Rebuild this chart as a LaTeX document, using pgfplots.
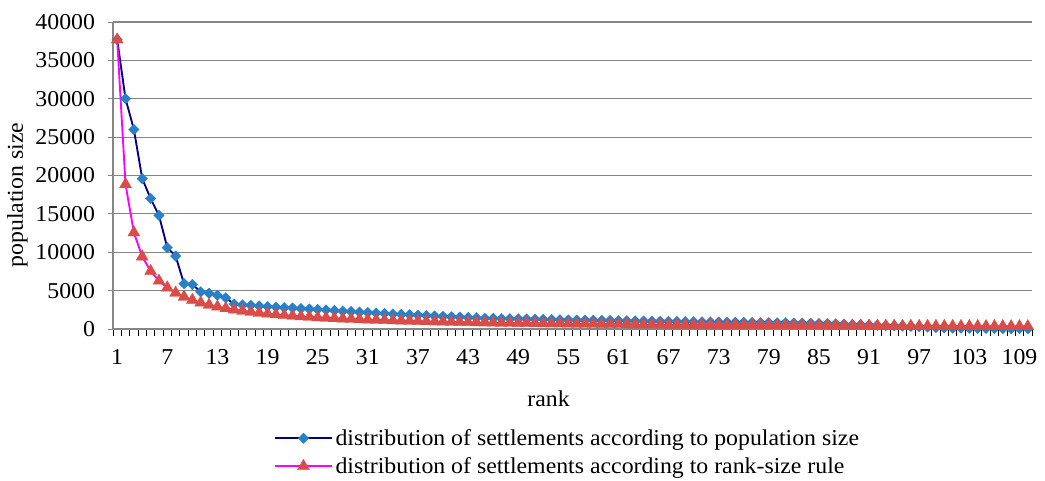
\documentclass[border=0pt]{standalone}
\usepackage{pgfplots}
\pgfplotsset{compat=1.18}
\usepackage{fontspec}
\setmainfont{Liberation Serif}[FakeStretch=1.05]
\definecolor{bluemark}{RGB}{40,128,200}
\definecolor{blueline}{RGB}{0,0,128}
\definecolor{redmark}{RGB}{218,76,70}
\definecolor{pinkline}{RGB}{255,0,255}
\definecolor{gridgray}{RGB}{134,134,134}
\begin{document}
\begin{tikzpicture}
\useasboundingbox (-84.75pt,-114pt) rectangle (699pt,246.75pt);
\begin{axis}[
  scale only axis,
  width=689.25pt, height=230.25pt,
  xmin=0.5, xmax=110.5, ymin=0, ymax=40000,
  axis lines*=left,
  axis line style={gridgray, line width=0.8pt},
  xtick={1,7,...,109},
  minor xtick={0.5,1.5,...,110.5},
  major x tick style={draw=none},
  minor x tick style={black, line width=0.6pt},
  minor tick length=5pt,
  ytick={0,5000,...,40000},
  major y tick style={gridgray, line width=0.6pt},
  major tick length=4pt,
  tick align=outside,
  ymajorgrids,
  grid style={gridgray, line width=0.8pt},
  scaled y ticks=false,
  /pgf/number format/assume math mode=true,
  yticklabel={\pgfmathprintnumber[fixed,1000 sep={}]{\tick}},
  xticklabel style={yshift=-8pt},
  yticklabel style={xshift=-6pt},
  ticklabel style={font=\fontsize{17}{20}\selectfont},
  xlabel={rank},
  ylabel={population size},
  label style={font=\fontsize{17}{20}\selectfont},
  xlabel style={at={(axis description cs:0.474,0)}, anchor=center, yshift=-52pt},
  ylabel style={at={(axis description cs:-0.104,0.436)}, anchor=center},
  legend style={at={(axis description cs:0.175,0)}, anchor=north west, yshift=-73pt,
    draw=none, fill=none, font=\fontsize{17}{20}\selectfont, row sep=3.5pt,
    legend cell align=left, inner sep=0pt},
  legend image code/.code={\draw[mark repeat=2,mark phase=2] plot coordinates {(0cm,0cm) (0.75cm,0cm) (1.5cm,0cm)};},
  clip=false,
]
\addplot[blueline, line width=1.4pt, mark=square*, mark size=2.8pt,
  mark options={draw=bluemark, fill=bluemark, line width=0.2pt, rotate=45}] table {
x y
1 37700
2 30000
3 26000
4 19600
5 17000
6 14800
7 10600
8 9500
9 5900
10 5800
11 4850
12 4650
13 4400
14 4050
15 3250
16 3150
17 3080
18 3000
19 2920
20 2850
21 2790
22 2730
23 2670
24 2610
25 2550
26 2480
27 2410
28 2340
29 2270
30 2200
31 2140
32 2080
33 2020
34 1960
35 1900
36 1850
37 1800
38 1750
39 1700
40 1650
41 1600
42 1550
43 1500
44 1450
45 1400
46 1380
47 1360
48 1340
49 1320
50 1300
51 1280
52 1250
53 1230
54 1200
55 1180
56 1165
57 1150
58 1135
59 1120
60 1100
61 1085
62 1070
63 1055
64 1040
65 1025
66 1010
67 995
68 980
69 965
70 950
71 935
72 920
73 905
74 890
75 875
76 862
77 849
78 836
79 823
80 810
81 795
82 775
83 758
84 740
85 715
86 690
87 660
88 630
89 595
90 560
91 525
92 490
93 450
94 415
95 380
96 340
97 300
98 250
99 200
100 150
101 130
102 115
103 100
104 90
105 80
106 70
107 60
108 50
109 40
110 30
};
\addlegendentry{distribution of settlements according to population size}
\addplot[pinkline, line width=1.4pt, mark=triangle*, mark size=5.2pt,
  mark options={draw=redmark, fill=redmark, line width=0.2pt}] table {
x y
1 37700
2 18850
3 12567
4 9425
5 7540
6 6283
7 5386
8 4713
9 4189
10 3770
11 3427
12 3142
13 2900
14 2693
15 2513
16 2356
17 2218
18 2094
19 1984
20 1885
21 1795
22 1714
23 1639
24 1571
25 1508
26 1450
27 1396
28 1346
29 1300
30 1257
31 1216
32 1178
33 1142
34 1109
35 1077
36 1047
37 1019
38 992
39 967
40 943
41 920
42 898
43 877
44 857
45 838
46 820
47 802
48 785
49 769
50 754
51 739
52 725
53 711
54 698
55 685
56 673
57 661
58 650
59 639
60 628
61 618
62 608
63 598
64 589
65 580
66 571
67 563
68 554
69 546
70 539
71 531
72 524
73 516
74 509
75 503
76 496
77 490
78 483
79 477
80 471
81 465
82 460
83 454
84 449
85 444
86 438
87 433
88 428
89 424
90 419
91 414
92 410
93 405
94 401
95 397
96 393
97 389
98 385
99 381
100 377
101 373
102 370
103 366
104 363
105 359
106 356
107 352
108 349
109 346
110 343
};
\addlegendentry{distribution of settlements according to rank-size rule}
\end{axis}
\end{tikzpicture}
\end{document}
